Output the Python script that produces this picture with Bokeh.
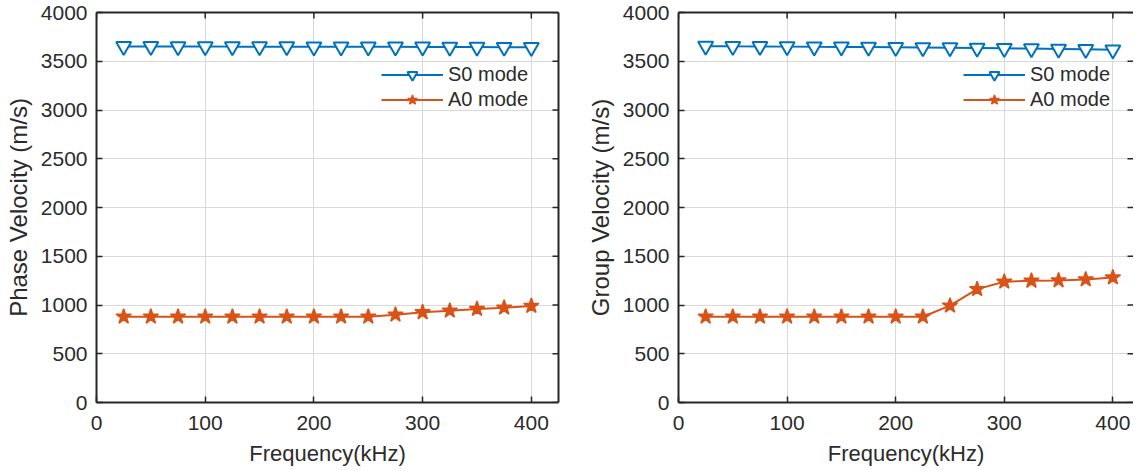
import math
from bokeh.plotting import figure
from bokeh.models import LinearAxis, FixedTicker, Range1d
from bokeh.layouts import row
from bokeh.embed import file_html
from bokeh.resources import INLINE

# ---- data ----
freq = [25, 50, 75, 100, 125, 150, 175, 200, 225, 250, 275, 300, 325, 350, 375, 400]
phase_s0 = [3652, 3652, 3651, 3651, 3650, 3650, 3650, 3649, 3649, 3648, 3648, 3647, 3646, 3645, 3644, 3643]
phase_a0 = [880, 880, 880, 880, 880, 880, 880, 880, 880, 880, 901, 925, 942, 959, 973, 990]
group_s0 = [3655, 3653, 3652, 3650, 3648, 3647, 3645, 3643, 3641, 3639, 3636, 3633, 3630, 3626, 3622, 3618]
group_a0 = [880, 880, 880, 880, 880, 880, 880, 880, 880, 993, 1163, 1238, 1248, 1252, 1262, 1282]
x_ticks = [0, 100, 200, 300, 400]
y_ticks = [0, 500, 1000, 1500, 2000, 2500, 3000, 3500, 4000]
series_names = ["S0 mode", "A0 mode"]
x_title = "Frequency(kHz)"
y_titles = ["Phase Velocity (m/s)", "Group Velocity (m/s)"]

BLUE = "#0072BD"
ORANGE = "#D95319"
TXT = "#2b2b2b"
EDGE = "#262626"
FONT = "Liberation Sans"


def style_axis(ax):
    ax.major_tick_in = 6
    ax.major_tick_out = 0
    ax.minor_tick_line_color = None
    ax.major_tick_line_color = EDGE
    ax.major_tick_line_width = 1.5
    ax.axis_line_color = EDGE
    ax.axis_line_width = 2
    ax.major_label_text_font = FONT
    ax.major_label_text_font_size = "21px"
    ax.major_label_text_color = TXT
    ax.axis_label_text_font = FONT
    ax.axis_label_text_font_style = "normal"
    ax.axis_label_text_color = TXT


def make_panel(s0, a0, ytitle, xmax, frame_w, min_left, min_right, right_line):
    ymax = y_ticks[-1]
    p = figure(frame_width=frame_w, frame_height=390,
               x_range=Range1d(0, xmax), y_range=Range1d(0, ymax),
               output_backend="svg", toolbar_location=None,
               min_border_left=min_left, min_border_right=min_right,
               min_border_top=12, min_border_bottom=62,
               background_fill_color="white", border_fill_color="white")
    p.outline_line_color = None

    p.xaxis.ticker = FixedTicker(ticks=x_ticks)
    p.yaxis.ticker = FixedTicker(ticks=y_ticks)
    for ax in p.xaxis + p.yaxis:
        style_axis(ax)
    p.xaxis.axis_label = x_title
    p.yaxis.axis_label = ytitle
    p.xaxis.axis_label_text_font_size = "22px"
    p.yaxis.axis_label_text_font_size = "24px"
    p.xaxis.major_label_standoff = 13
    p.xaxis.axis_label_standoff = 8
    p.yaxis.major_label_standoff = 9
    p.yaxis.axis_label_standoff = 6

    # box lines (no labels, no ticks)
    top = LinearAxis(ticker=FixedTicker(ticks=[]))
    top.axis_line_color = EDGE
    top.axis_line_width = 2
    top.major_tick_line_color = None
    top.minor_tick_line_color = None
    p.add_layout(top, "above")
    if right_line:
        right = LinearAxis(ticker=FixedTicker(ticks=[]))
        right.axis_line_color = EDGE
        right.axis_line_width = 2
        right.major_tick_line_color = None
        right.minor_tick_line_color = None
        p.add_layout(right, "right")

    # inward ticks on the top and right edges
    p.ray(x=x_ticks, y=[ymax] * len(x_ticks), length=6, length_units="screen",
          angle=-math.pi / 2, line_color=EDGE, line_width=1.5)
    p.ray(x=[xmax] * len(y_ticks), y=y_ticks, length=6, length_units="screen",
          angle=math.pi, line_color=EDGE, line_width=1.5)

    p.xgrid.ticker = FixedTicker(ticks=x_ticks)
    p.ygrid.ticker = FixedTicker(ticks=y_ticks)
    p.grid.grid_line_color = "#d9d9d9"
    p.grid.grid_line_width = 1

    p.line(freq, s0, line_color=BLUE, line_width=2, legend_label=series_names[0])
    p.scatter(freq, s0, marker="inverted_triangle", size=15, line_color=BLUE,
              line_width=2, fill_color="white", legend_label=series_names[0])
    p.line(freq, a0, line_color=ORANGE, line_width=2, legend_label=series_names[1])
    p.scatter(freq, a0, marker="star", size=16, line_color=ORANGE,
              line_width=1.5, fill_color=ORANGE, legend_label=series_names[1])

    lg = p.legend[0]
    lg.location = (285, 290)
    lg.padding = 0
    lg.margin = 0
    lg.spacing = 0
    lg.glyph_width = 62
    lg.glyph_height = 25
    lg.label_height = 25
    lg.label_standoff = 5
    lg.border_line_color = None
    lg.background_fill_alpha = 0
    lg.label_text_font = FONT
    lg.label_text_font_size = "20px"
    lg.label_text_color = TXT
    return p


p1 = make_panel(phase_s0, phase_a0, y_titles[0], 425, 462, 96, 10, True)
p2 = make_panel(group_s0, group_a0, y_titles[1], 419, 455, 110, 0, False)

layout = row(p1, p2)
open("out.html", "w").write(file_html(layout, INLINE))
